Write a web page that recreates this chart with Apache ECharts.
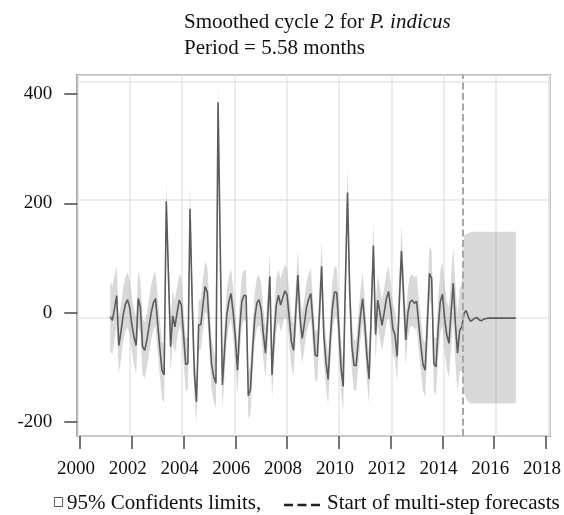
<!DOCTYPE html>
<html><head><meta charset="utf-8">
<script src="https://cdn.jsdelivr.net/npm/echarts@6/dist/echarts.min.js"></script>
<style>html,body{margin:0;padding:0;background:#fff}#c{width:564px;height:515px}</style>
</head><body><div id="c"></div>
<script>
// ---- data ----
const startYear = 2001, startMonth = 3;
const observed = [
 -7,-14,8,31,-60,-35,-5,15,24,10,
 -20,-44,-60,26,10,-62,-69,-50,-25,0,
 18,26,-20,-65,-105,-114,204,70,-62,-6,
 -26,0,23,14,-40,-95,-93,190,20,-110,
 -163,-22,-22,15,48,38,-30,-95,-117,-129,
 385,120,-132,-70,-5,20,35,0,-44,-105,
 -30,20,32,31,-152,-141,-68,-10,18,24,
 5,-40,-74,-10,66,-114,-40,14,32,14,
 28,40,32,-10,-53,-69,0,69,-10,-47,
 -20,10,25,35,-20,-77,-80,0,85,-40,
 -90,-122,-50,10,38,37,-30,-100,-135,50,
 220,40,-60,-96,-97,-50,-5,26,-20,-80,
 -121,0,123,-40,23,0,-23,0,25,39,
 10,-29,-41,-80,20,113,30,-50,0,20,
 23,17,21,-20,-60,-95,-105,-20,72,63,
 -93,-99,-30,20,34,-10,-40,-56,0,54,
 -20,-74,-32,-26
];
const forecast = [-1,4,-8,-16,-13,-10,-9,-13,-15,-12,-11,
 -10,-10,-10,-10,-10,-10,-10,-10,-10,-10,-10,-10,-10,-10];
const ciHalfObserved = [
 65,62,58,55,52,50,50,50,50,50,
 50,50,52,50,50,52,52,50,50,50,
 50,50,50,50,52,52,38,40,48,48,
 48,48,48,48,48,48,48,42,46,42,
 40,46,46,46,46,46,46,46,46,46,
 35,46,46,46,46,46,46,46,46,46,
 46,46,46,46,42,44,46,46,46,46,
 46,46,46,46,46,46,46,48,48,48,
 48,48,48,46,46,46,46,46,46,46,
 46,46,46,46,46,46,46,46,46,46,
 46,46,46,46,46,46,46,46,46,46,
 46,46,46,46,46,46,46,46,46,46,
 46,46,44,46,46,46,46,46,46,46,
 46,46,46,46,46,46,46,46,46,47,
 47,48,48,48,48,48,49,49,50,50,
 51,52,54,56,58,60,62,64,66,68,
 70,73,76,80
];
const forecastUpper = [141,144,146,147,148,148,148,148,148,148,148,148,148,148,148,148,148,148,148,148,148,148,148,148,148];
const forecastLower = [-147,-158,-163,-166,-166,-166,-166,-166,-166,-166,-166,-166,-166,-166,-166,-166,-166,-166,-166,-166,-166,-166,-166,-166,-166];
const xTickLabels = [2000,2002,2004,2006,2008,2010,2012,2014,2016,2018];
const yTickLabels = [-200,0,200,400];
const forecastStart = 2014.79;

// ---- build ----
const values = observed.concat(forecast);
const months = values.map((_, k) => startYear + (startMonth - 1 + k) / 12);
const upper = observed.map((v, i) => v + ciHalfObserved[i]).concat(forecastUpper);
const lower = observed.map((v, i) => v - ciHalfObserved[i]).concat(forecastLower);

const FONT = "'Liberation Serif','Times New Roman',serif";
const chart = echarts.init(document.getElementById('c'), null, {renderer: 'canvas'});
chart.setOption({
  animation: false,
  backgroundColor: '#fff',
  title: {
    text: '{a|Smoothed cycle 2 for }{b|P. indicus}\n{a|Period = 5.58 months}',
    left: 184, top: 9, padding: 0,
    textStyle: {
      fontWeight: 'normal',
      rich: {
        a: {fontSize: 21, fontFamily: FONT, color: '#111', lineHeight: 26, fontWeight: 'normal'},
        b: {fontSize: 21, fontFamily: FONT, color: '#111', lineHeight: 26, fontWeight: 'normal', fontStyle: 'italic'}
      }
    }
  },
  grid: {left: 77.3, right: 12.7, top: 74.7, bottom: 79, show: true,
         borderColor: '#4a4a4a', borderWidth: 1.5, backgroundColor: 'transparent'},
  xAxis: [
    {type: 'value', min: 1999.896, max: 2018.155, position: 'bottom',
     axisLine: {show: false, onZero: false},
     axisTick: {show: true, customValues: xTickLabels, length: 13, lineStyle: {color: '#4a4a4a', width: 1.5}},
     axisLabel: {customValues: xTickLabels, fontSize: 19, fontFamily: FONT, color: '#111', margin: 24,
                 padding: [0, 8, 0, 0], formatter: v => String(v)},
     splitLine: {show: false}},
    {type: 'value', min: 0, max: 9.03, interval: 1, position: 'top',
     axisLine: {show: false, onZero: false}, axisTick: {show: false}, axisLabel: {show: false},
     splitLine: {show: true, lineStyle: {color: '#e6e6e6', width: 1.5}}}
  ],
  yAxis: [
    {type: 'value', min: -225.5, max: 435.3, position: 'left',
     axisLine: {show: false, onZero: false},
     axisTick: {show: true, customValues: yTickLabels, length: 13, lineStyle: {color: '#4a4a4a', width: 1.5}},
     axisLabel: {customValues: yTickLabels, fontSize: 19, fontFamily: FONT, color: '#111', margin: 25,
                 formatter: v => String(v)},
     splitLine: {show: false}},
    {type: 'value', min: -1, max: 2.064, interval: 1, position: 'right',
     axisLine: {show: false, onZero: false}, axisTick: {show: false}, axisLabel: {show: false},
     splitLine: {show: true, lineStyle: {color: '#e6e6e6', width: 1.5}}}
  ],
  series: [
    {
      type: 'custom', xAxisIndex: 0, yAxisIndex: 0, silent: true, z: 1,
      data: [[months[0], 0]],
      renderItem: function (params, api) {
        const pts = [];
        for (let k = 0; k < months.length; k++) pts.push(api.coord([months[k], upper[k]]));
        for (let k = months.length - 1; k >= 0; k--) pts.push(api.coord([months[k], lower[k]]));
        return {type: 'polygon', shape: {points: pts}, style: {fill: 'rgba(150,150,150,0.36)'}};
      }
    },
    {
      type: 'line', xAxisIndex: 0, yAxisIndex: 0, z: 3,
      data: months.map((t, k) => [t, values[k]]),
      showSymbol: false, symbol: 'none',
      lineStyle: {color: '#5c5c5c', width: 1.6},
      markLine: {
        silent: true, symbol: ['none', 'none'], label: {show: false},
        lineStyle: {type: [7, 3.5], color: '#a8a8a8', width: 2},
        data: [{xAxis: forecastStart}]
      }
    }
  ],
  graphic: [
    {type: 'text', left: 53, top: 496,
     style: {text: '□', font: "12px 'DejaVu Sans'", fill: '#222'}},
    {type: 'text', left: 67, top: 493,
     style: {text: '95% Confidents limits,', font: "21px " + FONT, fill: '#111'}},
    {type: 'line', shape: {x1: 284, y1: 505, x2: 320, y2: 505},
     style: {stroke: '#222', lineWidth: 2.5, lineDash: [9, 4.5]}},
    {type: 'text', left: 327, top: 493,
     style: {text: 'Start of multi-step forecasts', font: "21px " + FONT, fill: '#111'}}
  ]
});
</script></body></html>
